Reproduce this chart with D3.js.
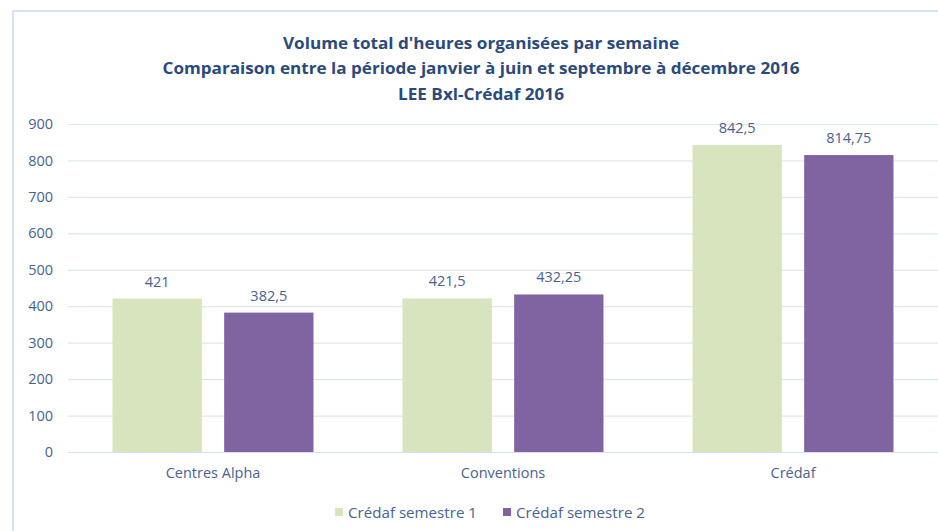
<!DOCTYPE html>
<html><head><meta charset="utf-8">
<script src="https://cdn.jsdelivr.net/npm/d3@7"></script>
<style>
html,body{margin:0;padding:0;background:#fff;}
text{font-family:"Open Sans",sans-serif;}
</style></head>
<body><svg id="c" width="938" height="531"></svg>
<script>
const titleLines = ["Volume total d'heures organisées par semaine",
  "Comparaison entre la période janvier à juin et septembre à décembre 2016",
  "LEE Bxl-Crédaf 2016"];
const categories = ["Centres Alpha", "Conventions", "Crédaf"];
const seriesNames = ["Crédaf semestre 1", "Crédaf semestre 2"];
const semestre1 = [421, 421.5, 842.5];
const semestre2 = [382.5, 432.25, 814.75];
const yTicks = [0, 100, 200, 300, 400, 500, 600, 700, 800, 900];
const colors = ["#D7E4BD", "#8064A2"];

const svg = d3.select("#c");
const fmt = v => String(v).replace(".", ",");
const txtCol = "#4A6290";

// frame
svg.append("rect").attr("x", 13).attr("y", 11).attr("width", 940).attr("height", 540)
  .attr("fill", "#fff").attr("stroke", "#D6E3F7").attr("stroke-width", 2);

// title
const tcol = "#2A4A7C";
const tw = [396, 637, 166];
titleLines.forEach((t, i) => {
  svg.append("text").attr("x", 481).attr("y", 49 + i * 25.3)
    .attr("text-anchor", "middle").attr("font-weight", "bold")
    .attr("font-size", 16.5).attr("fill", tcol)
    .attr("textLength", tw[i]).attr("lengthAdjust", "spacingAndGlyphs")
    .text(t);
});

const x0 = d3.scaleBand().domain(categories).range([68, 938]).paddingInner(0.307).paddingOuter(0.1535);
const x1 = d3.scaleBand().domain(seriesNames).range([0, x0.bandwidth()]).paddingInner(0.2);
const y = d3.scaleLinear().domain([0, 900]).range([452, 124]);

// gridlines via axis
const gy = svg.append("g").attr("transform", "translate(68,0)")
  .call(d3.axisLeft(y).tickValues(yTicks).tickSize(-(938 - 68)).tickFormat(d3.format("d")).tickPadding(15));
gy.select(".domain").remove();
gy.selectAll(".tick line").attr("stroke", "#DDE7F4").attr("stroke-width", 1.2);
gy.selectAll(".tick text").attr("font-size", 14.5).attr("fill", txtCol).attr("font-family", "Open Sans");

// x axis labels
const gx = svg.append("g").attr("transform", "translate(0,452)")
  .call(d3.axisBottom(x0).tickSize(0).tickPadding(16));
gx.select(".domain").attr("stroke", "#D6E0EE").attr("stroke-width", 1.2);
gx.selectAll(".tick text").attr("font-size", 14.5).attr("fill", txtCol).attr("font-family", "Open Sans");

const data = categories.map((c, i) => ({cat: c, vals: [semestre1[i], semestre2[i]]}));
const grp = svg.append("g").selectAll("g").data(data).join("g")
  .attr("transform", d => `translate(${x0(d.cat)},0)`);
grp.selectAll("rect").data(d => d.vals.map((v, j) => ({s: seriesNames[j], v, j})))
  .join("rect")
  .attr("x", d => x1(d.s)).attr("width", x1.bandwidth())
  .attr("y", d => y(d.v)).attr("height", d => y(0) - y(d.v))
  .attr("fill", d => colors[d.j]);
grp.selectAll("text.lbl").data(d => d.vals.map((v, j) => ({s: seriesNames[j], v, j})))
  .join("text").attr("class", "lbl")
  .attr("x", d => x1(d.s) + x1.bandwidth() / 2).attr("y", d => y(d.v) - 12)
  .attr("text-anchor", "middle").attr("font-size", 14.5).attr("fill", txtCol)
  .text(d => fmt(d.v));

// legend
const leg = svg.append("g");
const lx = [335, 503];
seriesNames.forEach((s, i) => {
  leg.append("rect").attr("x", lx[i]).attr("y", 508).attr("width", 8).attr("height", 8).attr("fill", colors[i]);
  leg.append("text").attr("x", lx[i] + 13).attr("y", 517.5).attr("font-size", 14.5).attr("fill", txtCol)
    .attr("textLength", 129).attr("lengthAdjust", "spacingAndGlyphs").text(s);
});
</script></body></html>
